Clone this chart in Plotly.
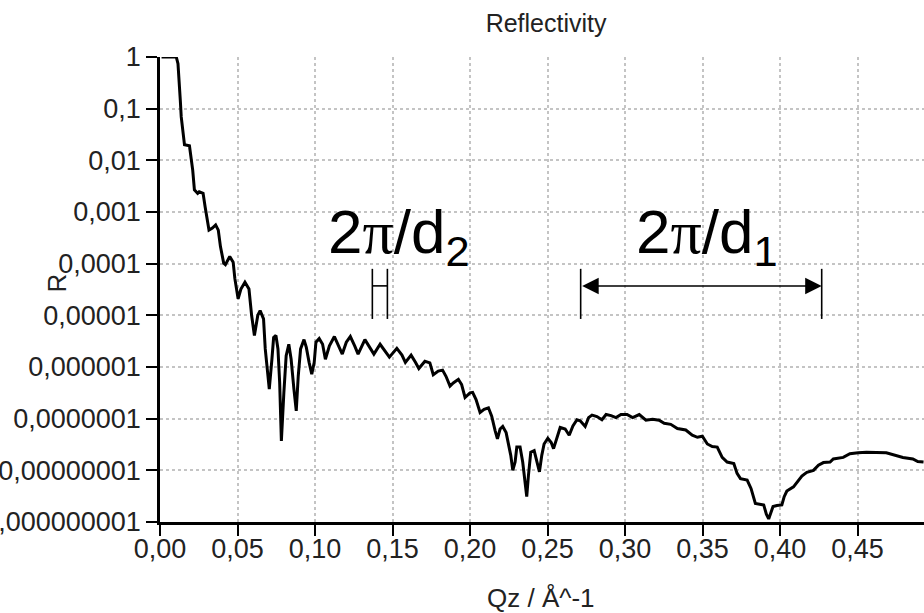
import plotly.graph_objects as go

# Measured reflectivity curve: momentum transfer Qz (1/Å) and log10(R)
qz = [
    0.0010, 0.0105, 0.0116, 0.0122, 0.0131, 0.0137, 0.0148, 0.0158, 0.0190, 0.0200,
    0.0211, 0.0222, 0.0243, 0.0253, 0.0278, 0.0291, 0.0306, 0.0316, 0.0338, 0.0359,
    0.0376, 0.0390, 0.0411, 0.0422, 0.0450, 0.0472, 0.0483, 0.0504, 0.0522, 0.0548,
    0.0574, 0.0591, 0.0609, 0.0631, 0.0646, 0.0668, 0.0679, 0.0690, 0.0705, 0.0722,
    0.0733, 0.0748, 0.0761, 0.0772, 0.0783, 0.0799, 0.0814, 0.0831, 0.0846, 0.0864,
    0.0879, 0.0892, 0.0907, 0.0929, 0.0944, 0.0962, 0.0979, 0.0995, 0.1006, 0.1027,
    0.1049, 0.1067, 0.1093, 0.1125, 0.1147, 0.1176, 0.1202, 0.1228, 0.1256, 0.1278,
    0.1322, 0.1354, 0.1380, 0.1420, 0.1452, 0.1480, 0.1528, 0.1561, 0.1583, 0.1620,
    0.1648, 0.1670, 0.1709, 0.1741, 0.1763, 0.1795, 0.1823, 0.1845, 0.1871, 0.1892,
    0.1925, 0.1946, 0.1968, 0.2000, 0.2017, 0.2039, 0.2065, 0.2091, 0.2119, 0.2140,
    0.2162, 0.2177, 0.2194, 0.2211, 0.2233, 0.2248, 0.2263, 0.2276, 0.2291, 0.2302,
    0.2323, 0.2340, 0.2351, 0.2366, 0.2377, 0.2392, 0.2414, 0.2431, 0.2448, 0.2463,
    0.2478, 0.2502, 0.2524, 0.2539, 0.2560, 0.2582, 0.2614, 0.2640, 0.2664, 0.2690,
    0.2711, 0.2743, 0.2765, 0.2787, 0.2819, 0.2851, 0.2878, 0.2910, 0.2942, 0.2974,
    0.3013, 0.3049, 0.3092, 0.3135, 0.3178, 0.3220, 0.3253, 0.3295, 0.3338, 0.3392,
    0.3434, 0.3467, 0.3499, 0.3531, 0.3563, 0.3595, 0.3627, 0.3659, 0.3702, 0.3723,
    0.3745, 0.3788, 0.3813, 0.3830, 0.3841, 0.3895, 0.3912, 0.3927, 0.3942, 0.3955,
    0.3980, 0.4012, 0.4027, 0.4044, 0.4087, 0.4119, 0.4141, 0.4173, 0.4216, 0.4248,
    0.4280, 0.4323, 0.4344, 0.4408, 0.4451, 0.4504, 0.4558, 0.4686, 0.4729, 0.4793,
    0.4857, 0.4889, 0.4926,
]
log_r = [
    0.00, 0.00, -0.13, -0.52, -0.84, -1.16, -1.42, -1.70, -1.72, -1.93,
    -2.19, -2.57, -2.64, -2.61, -2.64, -2.90, -3.15, -3.35, -3.31, -3.25,
    -3.35, -3.67, -3.99, -4.02, -3.86, -3.97, -4.29, -4.68, -4.49, -4.36,
    -4.49, -5.00, -5.39, -5.00, -4.91, -5.07, -5.65, -5.98, -6.43, -5.85,
    -5.43, -5.39, -5.65, -6.30, -7.43, -6.50, -5.78, -5.56, -5.85, -6.43,
    -6.85, -6.17, -5.65, -5.47, -5.62, -5.91, -6.14, -5.91, -5.52, -5.45,
    -5.56, -5.85, -5.59, -5.41, -5.56, -5.75, -5.52, -5.41, -5.59, -5.75,
    -5.47, -5.62, -5.75, -5.56, -5.69, -5.81, -5.64, -5.77, -5.91, -5.77,
    -5.91, -6.03, -5.89, -5.92, -6.15, -6.08, -6.06, -6.18, -6.37, -6.31,
    -6.24, -6.34, -6.59, -6.50, -6.49, -6.63, -6.88, -6.82, -6.79, -6.95,
    -7.23, -7.39, -7.20, -7.15, -7.27, -7.46, -7.71, -8.00, -7.84, -7.55,
    -7.55, -7.84, -8.10, -8.51, -8.10, -7.65, -7.62, -7.84, -8.03, -7.71,
    -7.49, -7.38, -7.46, -7.58, -7.39, -7.17, -7.20, -7.32, -7.14, -7.02,
    -7.04, -7.15, -6.98, -6.93, -6.96, -7.02, -6.92, -6.94, -6.98, -6.92,
    -6.92, -6.98, -6.92, -7.03, -7.01, -7.03, -7.09, -7.11, -7.19, -7.22,
    -7.32, -7.36, -7.34, -7.49, -7.54, -7.55, -7.75, -7.84, -7.87, -8.06,
    -8.16, -8.19, -8.35, -8.54, -8.64, -8.67, -8.85, -8.94, -8.83, -8.70,
    -8.68, -8.67, -8.51, -8.40, -8.32, -8.19, -8.11, -8.04, -8.00, -7.90,
    -7.85, -7.84, -7.78, -7.75, -7.68, -7.66, -7.65, -7.66, -7.70, -7.75,
    -7.78, -7.83, -7.84,
]
refl = [10 ** v for v in log_r]

# Axis ticks (comma decimal separator)
x_tickvals = [0.00, 0.05, 0.10, 0.15, 0.20, 0.25, 0.30, 0.35, 0.40, 0.45]
x_ticktext = ["0,00", "0,05", "0,10", "0,15", "0,20", "0,25", "0,30", "0,35", "0,40", "0,45"]
y_tickvals = [1, 1e-1, 1e-2, 1e-3, 1e-4, 1e-5, 1e-6, 1e-7, 1e-8, 1e-9]
y_ticktext = ["1", "0,1", "0,01", "0,001", "0,0001", "0,00001", "0,000001",
              "0,0000001", "0,00000001", "0,000000001"]

# Fringe periods: thin layer (d1) and total stack (d2)
d2_left, d2_right = 0.1370, 0.1467
d1_left, d1_right = 0.2714, 0.4269
marker_low, marker_high, marker_mid = -5.07, -4.10, -4.43

FONT = "Arial, Liberation Sans, sans-serif"
TICK_FONT = dict(family=FONT, size=27, color="#222")

fig = go.Figure()

fig.add_trace(go.Scatter(
    x=qz, y=refl, mode="lines",
    line=dict(color="black", width=3),
    cliponaxis=False, showlegend=False, hoverinfo="skip",
))

# 2π/d2 bracket
fig.add_trace(go.Scatter(
    x=[d2_left, d2_left, None, d2_right, d2_right, None, d2_left, d2_right],
    y=[10 ** marker_low, 10 ** marker_high, None,
       10 ** marker_low, 10 ** marker_high, None,
       10 ** marker_mid, 10 ** marker_mid],
    mode="lines", line=dict(color="black", width=1.6),
    showlegend=False, hoverinfo="skip",
))

# 2π/d1 end bars
fig.add_trace(go.Scatter(
    x=[d1_left, d1_left, None, d1_right, d1_right],
    y=[10 ** marker_low, 10 ** marker_high, None,
       10 ** marker_low, 10 ** marker_high],
    mode="lines", line=dict(color="black", width=1.6),
    showlegend=False, hoverinfo="skip",
))

pi = '<span style="font-family:\'Liberation Serif\', serif">π</span>'

annotations = [
    # double-headed arrow spanning d1 period
    dict(x=d1_right, y=marker_mid, ax=d1_left, ay=marker_mid,
         xref="x", yref="y", axref="x", ayref="y",
         showarrow=True, text="", arrowside="end+start",
         arrowhead=2, startarrowhead=2, arrowsize=2.2, startarrowsize=2.2,
         arrowwidth=1.5, arrowcolor="black", standoff=0, startstandoff=0),
    dict(x=0.1545, y=-3.47, xref="x", yref="y", showarrow=False,
         text="2" + pi + "/d<sub>2</sub>",
         font=dict(family=FONT, size=62, color="black"),
         xanchor="center", yanchor="middle"),
    dict(x=0.3530, y=-3.47, xref="x", yref="y", showarrow=False,
         text="2" + pi + "/d<sub>1</sub>",
         font=dict(family=FONT, size=62, color="black"),
         xanchor="center", yanchor="middle"),
    # axis titles
    dict(x=-0.135, y=0.515, xref="paper", yref="paper", showarrow=False,
         text="R", textangle=-90, font=dict(family=FONT, size=26, color="#222"),
         xanchor="center", yanchor="middle"),
    dict(x=0.499, y=-0.163, xref="paper", yref="paper", showarrow=False,
         text="Qz / Å^-1", font=dict(family=FONT, size=26, color="#222"),
         xanchor="center", yanchor="middle"),
]

fig.update_layout(
    width=924, height=613,
    margin=dict(l=160, r=0, t=57, b=91, autoexpand=False),
    paper_bgcolor="white", plot_bgcolor="white",
    title=dict(text="Reflectivity", x=0.591, y=0.9625, xanchor="center",
               yanchor="middle", font=dict(family=FONT, size=25, color="#222")),
    font=dict(family=FONT, size=25, color="#222"),
    annotations=annotations,
    showlegend=False,
)

fig.update_xaxes(
    range=[0, 0.4929], tickvals=x_tickvals, ticktext=x_ticktext,
    showline=True, linecolor="black", linewidth=2.5,
    ticks="outside", ticklen=11, tickwidth=2, tickcolor="black",
    showgrid=True, gridcolor="#c4c4c4", gridwidth=2, griddash="dot",
    zeroline=False, tickfont=TICK_FONT, ticklabelstandoff=-10, automargin=False,
)
fig.update_yaxes(
    type="log", range=[-9, 0], tickvals=y_tickvals, ticktext=y_ticktext,
    showline=True, linecolor="black", linewidth=2.5,
    ticks="outside", ticklen=11, tickwidth=2, tickcolor="black",
    showgrid=True, gridcolor="#c4c4c4", gridwidth=2, griddash="dot",
    zeroline=False, tickfont=TICK_FONT, ticklabelstandoff=0, automargin=False,
)

fig.write_html("out.html")
